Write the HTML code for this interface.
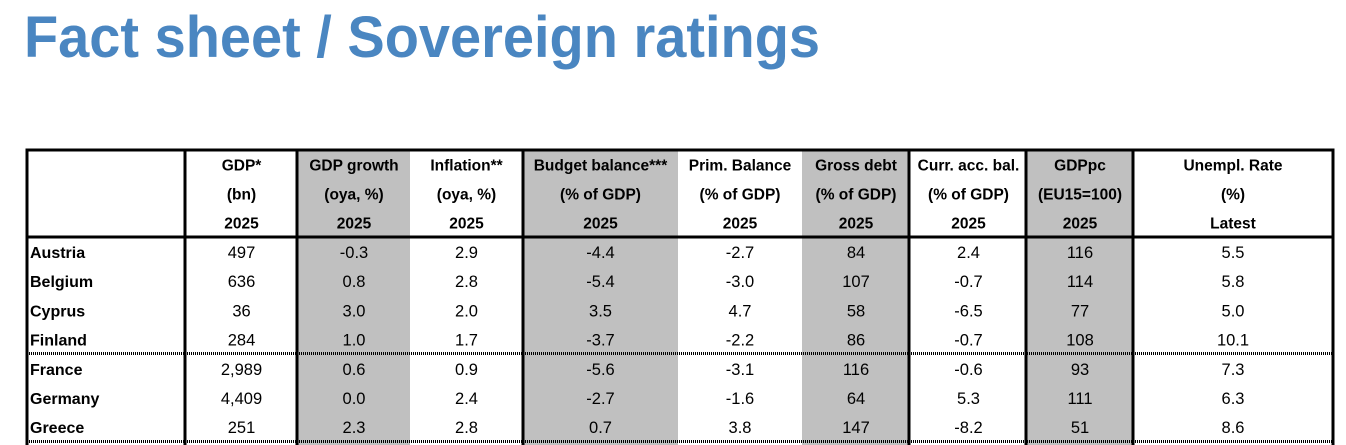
<!DOCTYPE html>
<html><head><meta charset="utf-8"><style>
html,body{margin:0;padding:0;background:#fff;}
svg{display:block;font-family:"Liberation Sans",Arial,sans-serif;}
</style></head><body>
<svg id="s" width="1346" height="445" viewBox="0 0 1346 445">
<text x="24" y="57" font-size="58" font-weight="bold" fill="#4a86c1" textLength="796" lengthAdjust="spacingAndGlyphs">Fact sheet / Sovereign ratings</text>
<g id="g"></g>
</svg>
<script>
const countries=["Austria","Belgium","Cyprus","Finland","France","Germany","Greece"];
const gdp=["497","636","36","284","2,989","4,409","251"];
const growth=["-0.3","0.8","3.0","1.0","0.6","0.0","2.3"];
const inflation=["2.9","2.8","2.0","1.7","0.9","2.4","2.8"];
const budget=["-4.4","-5.4","3.5","-3.7","-5.6","-2.7","0.7"];
const prim=["-2.7","-3.0","4.7","-2.2","-3.1","-1.6","3.8"];
const debt=["84","107","58","86","116","64","147"];
const curr=["2.4","-0.7","-6.5","-0.7","-0.6","5.3","-8.2"];
const gdppc=["116","114","77","108","93","111","51"];
const unemp=["5.5","5.8","5.0","10.1","7.3","6.3","8.6"];
const headers=[["GDP*","(bn)","2025"],["GDP growth","(oya, %)","2025"],["Inflation**","(oya, %)","2025"],["Budget balance***","(% of GDP)","2025"],["Prim. Balance","(% of GDP)","2025"],["Gross debt","(% of GDP)","2025"],["Curr. acc. bal.","(% of GDP)","2025"],["GDPpc","(EU15=100)","2025"],["Unempl. Rate","(%)","Latest"]];
const series=[gdp,growth,inflation,budget,prim,debt,curr,gdppc,unemp];
const colEdges=[185,298,410,523,678,802,910,1027,1133,1333];
const grey=[false,true,false,true,false,true,false,true,false];
const NS="http://www.w3.org/2000/svg";
const g=document.getElementById('g');
function el(t,a,txt){const e=document.createElementNS(NS,t);for(const k in a)e.setAttribute(k,a[k]);if(txt!==undefined)e.textContent=txt;g.appendChild(e);return e;}
const rowY=i=>252+i*29.2;
const hdrY=[165,194,223];
series.forEach((s,c)=>{
  const x0=colEdges[c],x1=colEdges[c+1];
  if(grey[c]){const r=el('rect',{x:x0,y:151,width:x1-x0,height:300,fill:'#c0c0c0'});
    
    }
});
series.forEach((s,c)=>{
  const x0=colEdges[c],x1=colEdges[c+1],cx=(x0+x1)/2;
  headers[c].forEach((h,j)=>{const t=el('text',{x:cx,y:hdrY[j]+5.5,'font-size':15.5,'font-weight':'bold','text-anchor':'middle',fill:'#000'},h);
    
    });
  s.forEach((v,i)=>{const t=el('text',{x:cx,y:rowY(i)+6,'font-size':16.5,'text-anchor':'middle',fill:'#000'},v);
    
    });
});
countries.forEach((n,i)=>{const t=el('text',{x:30,y:rowY(i)+6,'font-size':16,'font-weight':'bold',fill:'#000'},n);
  
  });
[353.5,441.5].forEach(y=>{const l=el('line',{x1:27,x2:1333,y1:y,y2:y,stroke:'#000','stroke-width':3,'stroke-dasharray':'1,1'});
  
  });
const b1=el('line',{x1:25.5,x2:1334.5,y1:150,y2:150,stroke:'#000','stroke-width':3});


const b2=el('line',{x1:26,x2:1334,y1:237,y2:237,stroke:'#000','stroke-width':3});


[27,185,297,523,909,1026,1133,1333].forEach(x=>{const l=el('line',{x1:x,x2:x,y1:149,y2:445,stroke:'#000','stroke-width':3});
  
  });
</script>
</body></html>
